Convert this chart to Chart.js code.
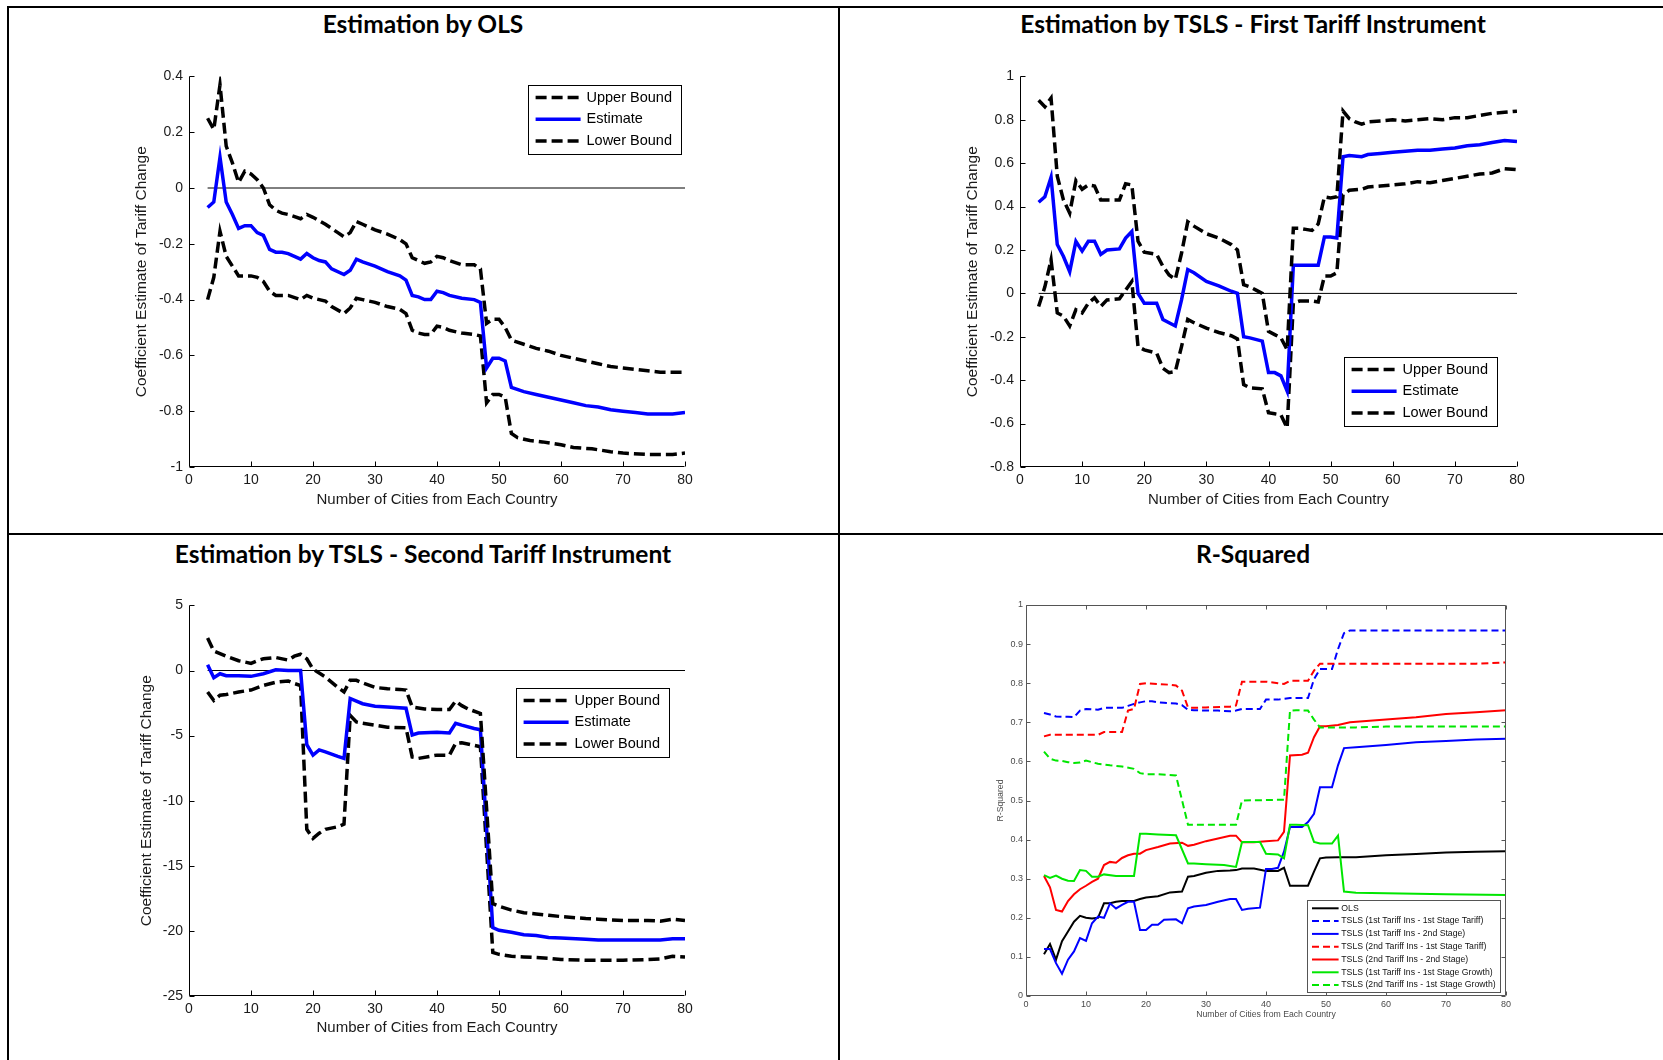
<!DOCTYPE html>
<html>
<head>
<meta charset="utf-8">
<script src="https://cdn.jsdelivr.net/npm/chart.js@4.4.1/dist/chart.umd.min.js"></script>
<style>
html, body { margin: 0; padding: 0; background: #fff; }
body { width: 1663px; height: 1060px; position: relative; overflow: hidden; }
.rule { position: absolute; background: #000; }
.ttl { position: absolute; font-family: Lato, "Open Sans", sans-serif; font-weight: bold; font-size: 24.5px;
       color: #000; transform: translate(-50%, -50%); white-space: nowrap; }
canvas { position: absolute; }
</style>
</head>
<body>
<div class="rule" style="left:7px;top:6px;width:1656px;height:2px"></div>
<div class="rule" style="left:7px;top:6px;width:2px;height:1054px"></div>
<div class="rule" style="left:838px;top:6px;width:2px;height:1054px"></div>
<div class="rule" style="left:7px;top:533px;width:1656px;height:2px"></div>

<div class="ttl" style="left:423px;top:23px">Estimation by OLS</div>
<div class="ttl" style="left:1253px;top:23px">Estimation by TSLS - First Tariff Instrument</div>
<div class="ttl" style="left:423px;top:553px">Estimation by TSLS - Second Tariff Instrument</div>
<div class="ttl" style="left:1253px;top:553px">R-Squared</div>

<canvas id="c1"></canvas>
<canvas id="c2"></canvas>
<canvas id="c3"></canvas>
<canvas id="c4"></canvas>

<script>
// [number of cities, value]
const boundLabels = ["Upper Bound", "Estimate", "Lower Bound"];
const zeroLine = [[3, 0], [80, 0]];

const olsUpper = [[3,0.25],[4,0.21],[5,0.37],[6,0.15],[7,0.09],[8,0.02],[9,0.06],[10,0.05],[11,0.03],[12,0.0],[13,-0.06],[14,-0.08],[15,-0.09],[16,-0.095],[18,-0.11],[19,-0.095],[20,-0.105],[22,-0.13],[24,-0.16],[25,-0.175],[26,-0.16],[27,-0.12],[28,-0.13],[30,-0.15],[32,-0.165],[34,-0.185],[35,-0.2],[36,-0.25],[37,-0.26],[38,-0.27],[39,-0.265],[40,-0.245],[41,-0.25],[42,-0.26],[44,-0.275],[46,-0.275],[47,-0.29],[48,-0.485],[49,-0.47],[50,-0.47],[51,-0.5],[52,-0.545],[54,-0.56],[56,-0.575],[58,-0.585],[60,-0.6],[62,-0.61],[64,-0.62],[66,-0.63],[68,-0.64],[70,-0.645],[72,-0.65],[74,-0.655],[76,-0.66],[78,-0.66],[80,-0.66]];
const olsEstimate = [[3,-0.07],[4,-0.05],[5,0.11],[6,-0.05],[7,-0.095],[8,-0.145],[9,-0.135],[10,-0.135],[11,-0.16],[12,-0.17],[13,-0.22],[14,-0.23],[15,-0.23],[16,-0.235],[17,-0.245],[18,-0.255],[19,-0.235],[20,-0.25],[21,-0.26],[22,-0.265],[23,-0.29],[25,-0.31],[26,-0.295],[27,-0.255],[28,-0.265],[30,-0.28],[32,-0.3],[34,-0.315],[35,-0.33],[36,-0.385],[37,-0.39],[38,-0.4],[39,-0.4],[40,-0.37],[41,-0.375],[42,-0.385],[44,-0.395],[46,-0.4],[47,-0.41],[48,-0.645],[49,-0.61],[50,-0.61],[51,-0.62],[52,-0.715],[54,-0.73],[56,-0.74],[58,-0.75],[60,-0.76],[62,-0.77],[64,-0.78],[66,-0.785],[68,-0.795],[70,-0.8],[72,-0.805],[74,-0.81],[76,-0.81],[78,-0.81],[80,-0.805]];
const olsLower = [[3,-0.4],[4,-0.32],[5,-0.155],[6,-0.245],[7,-0.28],[8,-0.315],[9,-0.315],[10,-0.315],[11,-0.32],[12,-0.335],[13,-0.37],[14,-0.385],[16,-0.385],[18,-0.4],[19,-0.385],[20,-0.395],[22,-0.405],[23,-0.425],[25,-0.45],[26,-0.43],[27,-0.395],[28,-0.4],[30,-0.41],[32,-0.425],[34,-0.435],[35,-0.45],[36,-0.51],[37,-0.52],[38,-0.525],[39,-0.525],[40,-0.495],[41,-0.5],[42,-0.51],[44,-0.52],[46,-0.525],[47,-0.53],[48,-0.77],[49,-0.74],[50,-0.74],[51,-0.75],[52,-0.88],[53,-0.895],[55,-0.905],[57,-0.91],[60,-0.92],[62,-0.93],[65,-0.935],[68,-0.945],[70,-0.95],[74,-0.955],[78,-0.955],[80,-0.95]];

const firstUpper = [[3,0.89],[4,0.86],[5,0.9],[6,0.54],[7,0.43],[8,0.37],[9,0.52],[10,0.48],[11,0.5],[12,0.495],[13,0.43],[14,0.43],[16,0.43],[17,0.505],[18,0.5],[19,0.24],[20,0.19],[21,0.185],[22,0.18],[23,0.125],[24,0.085],[25,0.065],[26,0.185],[27,0.33],[28,0.31],[30,0.275],[32,0.255],[34,0.225],[35,0.2],[36,0.04],[37,0.03],[38,0.015],[39,0.0],[40,-0.175],[41,-0.19],[42,-0.205],[43,-0.26],[44,0.3],[45,0.3],[46,0.295],[47,0.29],[48,0.32],[49,0.445],[50,0.44],[51,0.445],[52,0.84],[53,0.805],[54,0.79],[55,0.78],[56,0.79],[58,0.795],[60,0.8],[62,0.795],[64,0.8],[66,0.805],[68,0.8],[70,0.81],[72,0.81],[74,0.82],[76,0.83],[78,0.835],[80,0.84]];
const firstEstimate = [[3,0.42],[4,0.445],[5,0.535],[6,0.225],[7,0.17],[8,0.1],[9,0.24],[10,0.195],[11,0.24],[12,0.24],[13,0.18],[14,0.2],[16,0.205],[17,0.255],[18,0.285],[19,0.0],[20,-0.045],[22,-0.045],[23,-0.12],[25,-0.15],[26,-0.03],[27,0.11],[28,0.095],[30,0.055],[32,0.035],[34,0.01],[35,0.0],[36,-0.2],[37,-0.205],[39,-0.22],[40,-0.365],[41,-0.365],[42,-0.38],[43,-0.45],[44,0.13],[45,0.13],[47,0.13],[48,0.13],[49,0.26],[50,0.26],[51,0.255],[52,0.63],[53,0.635],[55,0.63],[56,0.64],[58,0.645],[60,0.65],[62,0.655],[64,0.66],[66,0.66],[68,0.665],[70,0.67],[72,0.68],[74,0.685],[76,0.695],[78,0.705],[80,0.7]];
const firstLower = [[3,-0.06],[4,0.03],[5,0.155],[6,-0.09],[7,-0.105],[8,-0.15],[9,-0.075],[10,-0.09],[11,-0.045],[12,-0.02],[13,-0.06],[14,-0.03],[16,-0.025],[17,0.015],[18,0.055],[19,-0.245],[20,-0.26],[22,-0.275],[23,-0.345],[24,-0.365],[25,-0.36],[26,-0.245],[27,-0.12],[28,-0.135],[30,-0.16],[32,-0.18],[34,-0.195],[35,-0.21],[36,-0.42],[37,-0.435],[39,-0.44],[40,-0.55],[41,-0.555],[42,-0.56],[43,-0.62],[44,-0.045],[45,-0.035],[47,-0.035],[48,-0.04],[49,0.08],[50,0.08],[51,0.095],[52,0.455],[53,0.475],[55,0.48],[56,0.49],[58,0.495],[60,0.5],[62,0.505],[64,0.515],[66,0.51],[68,0.52],[70,0.53],[72,0.54],[74,0.55],[76,0.555],[78,0.575],[80,0.57]];

const secondUpper = [[3,2.5],[4,1.5],[5,1.3],[6,1.1],[8,0.75],[10,0.55],[11,0.75],[12,0.9],[14,1.0],[16,0.8],[17,1.1],[18,1.25],[19,0.9],[20,0.1],[21,-0.2],[22,-0.5],[24,-1.3],[25,-1.65],[26,-0.75],[27,-0.75],[28,-0.95],[30,-1.3],[32,-1.4],[34,-1.45],[35,-1.5],[36,-2.8],[38,-2.95],[40,-3.0],[42,-3.0],[43,-2.35],[44,-2.7],[45,-2.95],[47,-3.3],[49,-17.9],[50,-18.1],[52,-18.4],[54,-18.6],[56,-18.7],[58,-18.8],[60,-18.9],[64,-19.05],[66,-19.1],[70,-19.2],[74,-19.2],[76,-19.25],[78,-19.1],[80,-19.2]];
const secondEstimate = [[3,0.45],[4,-0.55],[5,-0.25],[6,-0.4],[8,-0.4],[10,-0.45],[12,-0.25],[14,0.05],[16,0.0],[18,0.0],[19,-5.7],[20,-6.5],[21,-6.1],[22,-6.25],[24,-6.6],[25,-6.75],[26,-2.15],[27,-2.35],[28,-2.55],[30,-2.75],[32,-2.8],[35,-2.9],[36,-4.95],[37,-4.8],[40,-4.75],[42,-4.8],[43,-4.05],[44,-4.2],[46,-4.45],[47,-4.55],[49,-19.75],[50,-19.95],[52,-20.1],[54,-20.3],[56,-20.35],[58,-20.5],[60,-20.55],[64,-20.65],[66,-20.7],[70,-20.7],[76,-20.7],[78,-20.6],[80,-20.6]];
const secondLower = [[3,-1.65],[4,-2.3],[5,-1.9],[6,-1.85],[8,-1.65],[10,-1.5],[12,-1.15],[14,-0.9],[16,-0.8],[17,-1.0],[18,-1.15],[19,-12.2],[20,-12.9],[21,-12.5],[22,-12.2],[24,-12.0],[25,-11.8],[26,-3.45],[27,-3.95],[28,-4.05],[30,-4.2],[32,-4.35],[35,-4.4],[36,-6.65],[37,-6.75],[40,-6.5],[42,-6.5],[43,-5.6],[44,-5.55],[46,-5.75],[47,-5.85],[49,-21.65],[50,-21.8],[52,-21.95],[54,-22.0],[56,-22.05],[58,-22.1],[60,-22.2],[64,-22.25],[70,-22.25],[74,-22.2],[76,-22.15],[78,-21.95],[80,-22.0]];

const rsqLabels = [
  "OLS",
  "TSLS (1st Tariff Ins - 1st Stage Tariff)",
  "TSLS (1st Tariff Ins - 2nd Stage)",
  "TSLS (2nd Tariff Ins - 1st Stage Tariff)",
  "TSLS (2nd Tariff Ins - 2nd Stage)",
  "TSLS (1st Tariff Ins - 1st Stage Growth)",
  "TSLS (2nd Tariff Ins - 1st Stage Growth)"
];
const rsqOls = [[3,0.107],[4,0.133],[5,0.093],[6,0.14],[7,0.165],[8,0.19],[9,0.205],[10,0.2],[11,0.198],[12,0.2],[13,0.237],[14,0.237],[15,0.241],[16,0.243],[18,0.243],[19,0.248],[20,0.252],[22,0.255],[24,0.265],[26,0.267],[27,0.305],[28,0.307],[30,0.315],[32,0.32],[34,0.321],[35,0.322],[36,0.326],[38,0.326],[40,0.32],[42,0.32],[43,0.328],[44,0.282],[45,0.282],[47,0.282],[48,0.318],[49,0.352],[50,0.354],[52,0.355],[55,0.355],[60,0.36],[65,0.363],[70,0.367],[75,0.369],[80,0.37]];
const rsqFirstStageTariff1 = [[3,0.724],[4,0.72],[5,0.715],[6,0.714],[7,0.714],[8,0.713],[9,0.73],[10,0.734],[12,0.732],[13,0.737],[14,0.737],[16,0.737],[17,0.742],[18,0.747],[19,0.751],[20,0.754],[21,0.754],[22,0.751],[23,0.75],[25,0.748],[26,0.744],[27,0.732],[28,0.731],[30,0.73],[32,0.73],[34,0.728],[35,0.73],[36,0.734],[39,0.734],[40,0.758],[42,0.758],[43,0.76],[44,0.762],[47,0.762],[48,0.81],[49,0.836],[51,0.836],[52,0.887],[53,0.928],[54,0.935],[80,0.935]];
const rsqSecondStage1 = [[3,0.12],[4,0.12],[5,0.084],[6,0.057],[7,0.093],[8,0.114],[9,0.148],[10,0.141],[11,0.186],[12,0.203],[13,0.2],[14,0.237],[15,0.224],[16,0.233],[17,0.241],[18,0.241],[19,0.169],[20,0.169],[21,0.182],[22,0.182],[23,0.195],[25,0.196],[26,0.186],[27,0.224],[28,0.229],[30,0.233],[32,0.241],[34,0.248],[35,0.248],[36,0.22],[37,0.223],[39,0.226],[40,0.325],[41,0.325],[42,0.328],[43,0.369],[44,0.432],[46,0.432],[47,0.445],[48,0.466],[49,0.534],[51,0.534],[52,0.59],[53,0.634],[55,0.636],[60,0.642],[65,0.649],[70,0.652],[75,0.656],[80,0.658]];
const rsqFirstStageTariff2 = [[3,0.664],[4,0.668],[12,0.668],[13,0.675],[16,0.675],[17,0.73],[18,0.734],[19,0.798],[20,0.8],[22,0.798],[24,0.796],[25,0.794],[26,0.781],[27,0.738],[28,0.737],[30,0.738],[34,0.74],[35,0.743],[36,0.804],[40,0.804],[42,0.8],[43,0.798],[44,0.806],[47,0.806],[48,0.832],[49,0.85],[75,0.85],[80,0.853]];
const rsqSecondStage2 = [[3,0.307],[4,0.278],[5,0.22],[6,0.216],[7,0.243],[8,0.26],[9,0.273],[10,0.282],[11,0.292],[12,0.3],[13,0.335],[14,0.343],[15,0.341],[16,0.353],[17,0.36],[18,0.364],[19,0.364],[20,0.373],[22,0.381],[24,0.39],[26,0.392],[27,0.384],[28,0.387],[30,0.396],[32,0.403],[34,0.41],[35,0.41],[36,0.393],[38,0.393],[40,0.396],[42,0.398],[43,0.42],[44,0.615],[46,0.617],[47,0.622],[48,0.662],[49,0.69],[50,0.69],[52,0.693],[54,0.7],[60,0.707],[65,0.713],[70,0.721],[75,0.726],[80,0.731]];
const rsqGrowth1 = [[3,0.309],[4,0.302],[5,0.308],[6,0.3],[7,0.295],[8,0.294],[9,0.322],[10,0.32],[11,0.305],[12,0.305],[13,0.311],[15,0.307],[18,0.307],[19,0.415],[20,0.415],[22,0.413],[25,0.411],[27,0.339],[28,0.339],[30,0.337],[33,0.335],[35,0.33],[36,0.394],[39,0.394],[40,0.364],[42,0.362],[43,0.352],[44,0.438],[45,0.438],[47,0.437],[48,0.394],[49,0.39],[51,0.39],[52,0.41],[53,0.267],[55,0.264],[60,0.263],[70,0.26],[80,0.258]];
const rsqGrowth2 = [[3,0.625],[4,0.607],[5,0.602],[6,0.601],[7,0.598],[8,0.596],[9,0.597],[10,0.602],[11,0.598],[12,0.594],[14,0.59],[16,0.587],[18,0.581],[19,0.57],[20,0.567],[22,0.567],[25,0.564],[27,0.438],[35,0.438],[36,0.5],[43,0.502],[44,0.73],[45,0.731],[47,0.73],[48,0.707],[49,0.687],[55,0.687],[60,0.689],[80,0.689]];

const FONT = '"Liberation Sans", Arial, sans-serif';

function pts(a) { return a.map(p => ({ x: p[0], y: p[1] })); }

function boundSets(upper, est, lower) {
  return [
    { label: boundLabels[0], data: pts(upper), borderColor: "#000", borderDash: [11, 5], borderWidth: 3.5 },
    { label: boundLabels[1], data: pts(est), borderColor: "#0000ff", borderWidth: 3.5 },
    { label: boundLabels[2], data: pts(lower), borderColor: "#000", borderDash: [11, 5], borderWidth: 3.5 },
    { label: "", data: pts(zeroLine), borderColor: "#000", borderWidth: 1, order: 10 }
  ];
}

function rsqSets() {
  const series = [rsqOls, rsqFirstStageTariff1, rsqSecondStage1, rsqFirstStageTariff2, rsqSecondStage2, rsqGrowth1, rsqGrowth2];
  const colors = ["#000", "#0000ff", "#0000ff", "#ff0000", "#ff0000", "#00e600", "#00e600"];
  const dashed = [false, true, false, true, false, false, true];
  return series.map((s, i) => ({
    label: rsqLabels[i], data: pts(s), borderColor: colors[i],
    borderDash: dashed[i] ? [7, 4] : [], borderWidth: 2, order: -i
  }));
}

// inward tick marks, axis lines and a boxed legend
const frame = {
  id: "frame",
  afterDatasetsDraw(chart, args, o) {
    const ctx = chart.ctx, a = chart.chartArea;
    const xs = chart.scales.x, ys = chart.scales.y;
    ctx.save();
    ctx.strokeStyle = o.color; ctx.lineWidth = 1; ctx.setLineDash([]);
    ctx.beginPath();
    const L = Math.round(a.left) + 0.5, R = Math.round(a.right) - 0.5;
    const T = Math.round(a.top) + 0.5, B = Math.round(a.bottom) - 0.5;
    ctx.moveTo(L, T); ctx.lineTo(L, B); ctx.lineTo(R, B);
    if (o.box) { ctx.lineTo(R, T); ctx.lineTo(L, T); }
    ys.ticks.forEach(t => {
      const y = Math.round(ys.getPixelForValue(t.value)) + 0.5;
      ctx.moveTo(L, y); ctx.lineTo(L + o.len, y);
      if (o.box) { ctx.moveTo(R, y); ctx.lineTo(R - o.len, y); }
    });
    xs.ticks.forEach(t => {
      const x = Math.round(xs.getPixelForValue(t.value)) + 0.5;
      ctx.moveTo(x, B); ctx.lineTo(x, B - o.len);
      if (o.box) { ctx.moveTo(x, T); ctx.lineTo(x, T + o.len); }
    });
    ctx.stroke();
    ctx.restore();
  },
  afterDraw(chart, args, o) {
    const g = o.legend;
    if (!g) return;
    const ctx = chart.ctx;
    const x = g.x - o.ox, y = g.y - o.oy;
    ctx.save();
    ctx.fillStyle = "#fff";
    ctx.fillRect(x, y, g.w, g.h);
    ctx.strokeStyle = g.border; ctx.lineWidth = 1; ctx.setLineDash([]);
    ctx.strokeRect(Math.round(x) + 0.5, Math.round(y) + 0.5, g.w, g.h);
    ctx.font = g.font + "px " + FONT;
    ctx.textBaseline = "middle";
    chart.data.datasets.filter(d => d.label).forEach((d, i) => {
      const ry = y + g.first + i * g.row;
      ctx.strokeStyle = d.borderColor; ctx.lineWidth = d.borderWidth;
      ctx.setLineDash(d.borderDash || []);
      ctx.beginPath(); ctx.moveTo(x + g.sx, ry); ctx.lineTo(x + g.sx + g.sl, ry); ctx.stroke();
      ctx.fillStyle = g.text;
      ctx.fillText(d.label, x + g.tx, ry);
    });
    ctx.restore();
  }
};

function makeChart(id, g, datasets, y, legend, small) {
  const titleSize = small ? 8.7 : 15, tickSize = small ? 9 : 14;
  const lh = titleSize * 1.2;
  const left = Math.round(g.yTitleX - lh / 2);
  const top = Math.round(g.t) - 14;
  const right = Math.round(g.r) + 22;
  const bottom = Math.round(g.xTitleY + lh / 2);
  const yW = Math.round(g.l) - left, xH = bottom - Math.round(g.b);
  const cv = document.getElementById(id);
  cv.width = right - left; cv.height = bottom - top;
  cv.style.left = left + "px"; cv.style.top = top + "px";
  const txt = small ? "#4a4a4a" : "#1a1a1a";
  const fmt = v => String(Math.round(v * 10) / 10);
  return new Chart(cv, {
    type: "line",
    data: { datasets },
    options: {
      responsive: false, animation: false, devicePixelRatio: 1,
      layout: { padding: { left: 0, top: 14, right: 22, bottom: 0 } },
      elements: { point: { radius: 0 }, line: { tension: 0, fill: false } },
      plugins: {
        legend: { display: false }, tooltip: { enabled: false },
        frame: { color: small ? "#555" : "#000", len: small ? 4 : 5, box: small,
                 legend, ox: left, oy: top }
      },
      scales: {
        x: {
          type: "linear", min: 0, max: 80,
          grid: { display: false, drawTicks: false }, border: { display: false },
          ticks: { stepSize: 10, padding: small ? 3 : 5, color: txt, maxRotation: 0,
                   font: { family: FONT, size: tickSize }, callback: fmt },
          title: { display: true, text: "Number of Cities from Each Country", color: txt, padding: 0,
                   font: { family: FONT, size: titleSize } },
          afterFit(s) { s.height = xH; }
        },
        y: {
          min: y.min, max: y.max,
          grid: { display: false, drawTicks: false }, border: { display: false },
          ticks: { stepSize: y.step, padding: small ? 3 : 6, color: txt,
                   font: { family: FONT, size: tickSize }, callback: fmt },
          title: { display: true, text: y.title, color: txt, padding: 0,
                   font: { family: FONT, size: small ? titleSize : 15.5 } },
          afterFit(s) { s.width = yW; }
        }
      }
    },
    plugins: [frame]
  });
}

const coefTitle = "Coefficient Estimate of Tariff Change";
const bigLegend = { w: 153, h: 69, first: 12.6, row: 21.7, sx: 7.6, sl: 45, tx: 58.5, font: 14.5, border: "#000", text: "#000" };

makeChart("c1", { l: 189, t: 76, r: 685, b: 467, yTitleX: 141, xTitleY: 499.5 },
  boundSets(olsUpper, olsEstimate, olsLower),
  { min: -1, max: 0.4, step: 0.2, title: coefTitle },
  Object.assign({ x: 528, y: 85 }, bigLegend), false);

makeChart("c2", { l: 1020, t: 76, r: 1517, b: 467, yTitleX: 971.5, xTitleY: 499.5 },
  boundSets(firstUpper, firstEstimate, firstLower),
  { min: -0.8, max: 1, step: 0.2, title: coefTitle },
  Object.assign({ x: 1344, y: 357 }, bigLegend), false);

makeChart("c3", { l: 189, t: 605, r: 685, b: 996, yTitleX: 146, xTitleY: 1027.7 },
  boundSets(secondUpper, secondEstimate, secondLower),
  { min: -25, max: 5, step: 5, title: coefTitle },
  Object.assign({ x: 516, y: 688 }, bigLegend), false);

makeChart("c4", { l: 1026, t: 605, r: 1506, b: 996, yTitleX: 1000, xTitleY: 1015 },
  rsqSets(),
  { min: 0, max: 1, step: 0.1, title: "R-Squared" },
  { x: 1307, y: 900, w: 193, h: 92, first: 8.3, row: 12.8, sx: 5, sl: 26.6, tx: 34.3, font: 8.7,
    border: "#555", text: "#111" }, true);
</script>
</body>
</html>
